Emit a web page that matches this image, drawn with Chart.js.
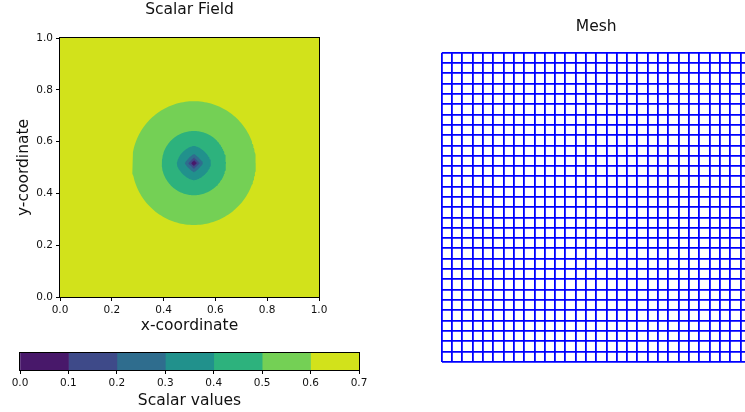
<!DOCTYPE html>
<html><head><meta charset="utf-8">
<script src="https://cdn.jsdelivr.net/npm/chart.js@4.4.0/dist/chart.umd.min.js"></script>
<style>
html,body{margin:0;padding:0;background:#fff;width:745px;height:412px;overflow:hidden;position:relative}
canvas{position:absolute}
</style></head><body>
<canvas id="field" width="380" height="345" style="left:0;top:0"></canvas>
<canvas id="cbar" width="380" height="67" style="left:0;top:345px"></canvas>
<canvas id="mesh" width="330" height="412" style="left:430px;top:0"></canvas>
<script>
// ---------- data ----------
const contourLevels = [0.0, 0.1, 0.2, 0.3, 0.4, 0.5, 0.6, 0.7];
const levelColors = ['#48186a', '#3e4a89', '#2f6d8e', '#21918c', '#2db27d', '#74d055', '#d2e21b'];
const fieldCenter = {x: 0.517, y: 0.517};
// radius of the contour line that bounds each level from outside (levels 0.1 ... 0.6)
const contourRadii = [0.011, 0.022, 0.035, 0.066, 0.124, 0.239];
// outline roundness (1 = diamond, 2 = circle)
const contourShape = [1.0, 1.0, 1.2, 1.6, 2.0, 2.0];
const fieldDomain = [0, 1];
const xTicks = [0.0, 0.2, 0.4, 0.6, 0.8, 1.0];
const yTicks = [0.0, 0.2, 0.4, 0.6, 0.8, 1.0];
const cbarTicks = [0.0, 0.1, 0.2, 0.3, 0.4, 0.5, 0.6, 0.7];
const meshDivisions = 30;
const fieldTitle = 'Scalar Field';
const meshTitle = 'Mesh';
const xLabel = 'x-coordinate';
const yLabel = 'y-coordinate';
const cbarLabel = 'Scalar values';

const FONT = "'DejaVu Sans', sans-serif";
const TXT = '#111';

function outline(r, p) {
  const pts = [];
  const N = 180;
  for (let i = 0; i <= N; i++) {
    const t = 2 * Math.PI * i / N, c = Math.cos(t), s = Math.sin(t);
    pts.push({
      x: fieldCenter.x + r * Math.sign(c) * Math.pow(Math.abs(c), 2 / p),
      y: fieldCenter.y + r * Math.sign(s) * Math.pow(Math.abs(s), 2 / p)
    });
  }
  return pts;
}
const [d0, d1] = fieldDomain;
const domainSquare = [{x: d0, y: d0}, {x: d1, y: d0}, {x: d1, y: d1}, {x: d0, y: d1}, {x: d0, y: d0}];

const fieldSets = contourRadii.map((r, i) => ({data: outline(r, contourShape[i]), backgroundColor: levelColors[i], order: i}));
fieldSets.push({data: domainSquare, backgroundColor: levelColors[levelColors.length - 1], order: levelColors.length});
fieldSets.forEach(d => Object.assign(d, {showLine: true, fill: 'shape', borderWidth: 0, borderColor: 'rgba(0,0,0,0)', pointRadius: 0, pointHoverRadius: 0, tension: 0}));

// ---------- plugins ----------
const frame = {
  id: 'frame',
  afterDraw(chart, args, opts) {
    if (!opts.on) return;
    const {ctx, chartArea: a} = chart;
    ctx.save();
    ctx.strokeStyle = '#000';
    ctx.lineWidth = 1;
    ctx.strokeRect(Math.round(a.left) - 0.5, Math.round(a.top) - 0.5, Math.round(a.right - a.left) + 1, Math.round(a.bottom - a.top) + 1);
    ctx.restore();
  }
};
// text items: where = 'top' | 'bottom' | 'left', off = distance of the baseline from that chart-area edge
const texts = {
  id: 'texts',
  afterDraw(chart, args, opts) {
    const {ctx, chartArea: a} = chart;
    (opts.items || []).forEach(it => {
      ctx.save();
      ctx.font = it.size + 'px ' + FONT;
      ctx.fillStyle = TXT;
      ctx.textAlign = 'center';
      ctx.textBaseline = 'alphabetic';
      const cx = (a.left + a.right) / 2, cy = (a.top + a.bottom) / 2;
      if (it.where === 'top') ctx.fillText(it.text, cx, a.top - it.off);
      else if (it.where === 'bottom') ctx.fillText(it.text, cx, a.bottom + it.off);
      else { ctx.translate(a.left - it.off, cy); ctx.rotate(-Math.PI / 2); ctx.fillText(it.text, 0, 0); }
      ctx.restore();
    });
  }
};

const tickFont = {family: FONT, size: 10.5};
const tickGrid = {drawOnChartArea: false, drawTicks: true, tickLength: 4, color: '#000', tickColor: '#000', lineWidth: 1};
const fmt = v => Number(v).toFixed(1);

// ---------- scalar field ----------
new Chart(document.getElementById('field'), {
  type: 'scatter',
  data: {datasets: fieldSets},
  plugins: [frame, texts],
  options: {
    responsive: false, animation: false, devicePixelRatio: 1,
    layout: {padding: {left: 0, right: 61, top: 38, bottom: 0}},
    plugins: {
      legend: {display: false}, tooltip: {enabled: false}, frame: {on: true},
      texts: {items: [
        {text: fieldTitle, where: 'top', off: 24.3, size: 15.5},
        {text: xLabel, where: 'bottom', off: 33, size: 15.5},
        {text: yLabel, where: 'left', off: 32, size: 15.5}
      ]}
    },
    scales: {
      x: {
        type: 'linear', min: d0, max: d1,
        afterBuildTicks: s => { s.ticks = xTicks.map(v => ({value: v})); },
        afterFit: s => { s.height = 48; },
        grid: tickGrid, border: {display: false},
        ticks: {color: TXT, font: tickFont, padding: 3, maxRotation: 0, autoSkip: false, callback: fmt}
      },
      y: {
        type: 'linear', min: d0, max: d1,
        afterBuildTicks: s => { s.ticks = yTicks.map(v => ({value: v})); },
        afterFit: s => { s.width = 60; },
        grid: tickGrid, border: {display: false},
        ticks: {color: TXT, font: tickFont, padding: 3, autoSkip: false, callback: fmt}
      }
    }
  }
});

// ---------- colorbar ----------
new Chart(document.getElementById('cbar'), {
  type: 'bar',
  data: {
    labels: [cbarLabel],
    datasets: levelColors.map((c, i) => ({
      data: [[contourLevels[i], contourLevels[i + 1]]],
      backgroundColor: c, borderWidth: 0, barPercentage: 1, categoryPercentage: 1, grouped: false
    }))
  },
  plugins: [frame, texts],
  options: {
    indexAxis: 'y',
    responsive: false, animation: false, devicePixelRatio: 1,
    layout: {padding: {left: 20, right: 21, top: 8, bottom: 0}},
    plugins: {
      legend: {display: false}, tooltip: {enabled: false}, frame: {on: true},
      texts: {items: [{text: cbarLabel, where: 'bottom', off: 35, size: 15.5}]}
    },
    scales: {
      x: {
        type: 'linear', min: contourLevels[0], max: contourLevels[contourLevels.length - 1],
        afterBuildTicks: s => { s.ticks = cbarTicks.map(v => ({value: v})); },
        afterFit: s => { s.height = 42; },
        grid: tickGrid, border: {display: false},
        ticks: {color: TXT, font: tickFont, padding: 3, maxRotation: 0, autoSkip: false, callback: fmt}
      },
      y: {display: false}
    }
  }
});

// ---------- mesh ----------
const meshNodes = Array.from({length: meshDivisions + 1}, (_, i) => i / meshDivisions);
const meshAxis = horizontal => ({
  type: 'linear', min: 0, max: 1,
  afterBuildTicks: s => { s.ticks = meshNodes.map(v => ({value: v})); },
  afterFit: s => { if (horizontal) s.height = 0; else s.width = 0; },
  grid: {display: true, drawOnChartArea: true, drawTicks: false, color: '#0000ff', lineWidth: 1.8},
  border: {display: false},
  ticks: {display: false}
});
new Chart(document.getElementById('mesh'), {
  type: 'scatter',
  data: {datasets: [{data: []}]},
  plugins: [texts],
  options: {
    responsive: false, animation: false, devicePixelRatio: 1,
    layout: {padding: {left: 11.7, right: 9.3, top: 52.7, bottom: 50.3}},
    plugins: {
      legend: {display: false}, tooltip: {enabled: false},
      texts: {items: [{text: meshTitle, where: 'top', off: 22.2, size: 15.5}]}
    },
    scales: {x: meshAxis(true), y: meshAxis(false)}
  }
});
</script>
</body></html>
